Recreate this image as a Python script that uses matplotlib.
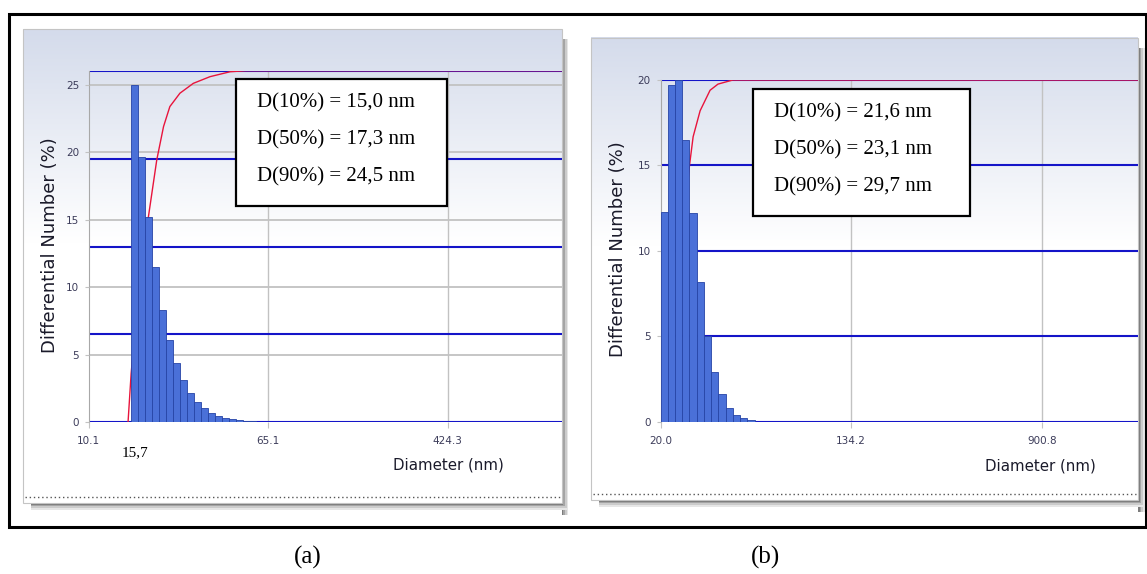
import numpy as np
import matplotlib.pyplot as plt
from matplotlib.patches import Rectangle
from matplotlib.colors import LinearSegmentedColormap
from matplotlib.ticker import NullLocator

W, H = 1147, 574

# (a) size bins: lower/upper edges in nm and differential number in %
edges_a = [15.7, 16.9, 18.2, 19.6, 21.0, 22.6, 24.3, 26.1, 28.1, 30.2, 32.5,
           34.9, 37.5, 40.3, 43.4, 46.6, 50.1, 53.9, 57.9, 62.3]
number_a = [25.0, 19.7, 15.2, 11.5, 8.3, 6.1, 4.4, 3.1, 2.2, 1.5, 1.05,
            0.7, 0.45, 0.3, 0.25, 0.18, 0.12, 0.08, 0.05]
# (a) cumulative curve (% of particles)
cum_d_a = [15.2, 15.7, 16.9, 18.8, 20.5, 22.0, 23.5, 26.1, 30.0, 35.7, 44.0, 52.0, 1393]
cum_p_a = [0, 13.9, 36, 58.5, 74.6, 84.1, 89.8, 93.6, 96.4, 98.3, 99.7, 100, 100]
xticks_a = [10.1, 65.1, 424.3]
xlabels_a = ['10.1', '65.1', '424.3']
yticks_a = [0, 5, 10, 15, 20, 25]
stats_a = ['D(10%) = 15,0 nm', 'D(50%) = 17,3 nm', 'D(90%) = 24,5 nm']

# (b)
edges_b = [20.0, 21.5, 23.1, 24.8, 26.7, 28.7, 30.8, 33.1, 35.6, 38.3, 41.2,
           44.3, 47.6, 51.2]
number_b = [12.3, 19.7, 20.0, 16.5, 12.2, 8.2, 5.0, 2.9, 1.6, 0.8, 0.4, 0.2, 0.1]
cum_d_b = [20.0, 21.5, 23.1, 24.8, 26.7, 27.7, 29.7, 32.8, 35.5, 38.7, 41.2, 2348]
cum_p_b = [0, 12, 32, 52, 74.9, 83.4, 91, 97, 98.8, 99.5, 100, 100]
xticks_b = [20.0, 134.2, 900.8]
xlabels_b = ['20.0', '134.2', '900.8']
yticks_b = [0, 5, 10, 15, 20]
stats_b = ['D(10%) = 21,6 nm', 'D(50%) = 23,1 nm', 'D(90%) = 29,7 nm']

SERIF = 'Liberation Serif'
SANS = 'DejaVu Sans'
BAR = '#4a70d8'
BAR_EDGE = '#2644a6'
BLUE = '#1414c8'
RED = '#e8143c'
GRID = '#c2c2c2'
TICK = '#3c3c5a'

fig = plt.figure(figsize=(W / 100, H / 100), dpi=100)


def px_rect(x0, y0, x1, y1):
    return [x0 / W, 1 - y1 / H, (x1 - x0) / W, (y1 - y0) / H]


# background layer in pixel coordinates
bg = fig.add_axes([0, 0, 1, 1], zorder=-1)
bg.set_xlim(0, W)
bg.set_ylim(H, 0)
bg.axis('off')

# overlay layer for boxes and labels
ov = fig.add_axes([0, 0, 1, 1], zorder=5)
ov.set_xlim(0, W)
ov.set_ylim(H, 0)
ov.axis('off')
ov.patch.set_visible(False)

fade = LinearSegmentedColormap.from_list('fade', ['#d4dbeb', '#ffffff'])
ramp = np.clip(np.linspace(0, 1, 300) / 0.45, 0, 1)[:, None]


def window(x0, y0, x1, y1):
    # drop shadow on right and bottom
    for k, c in enumerate(['#7c7c7c', '#a4a4a4', '#cbcbcb', '#e6e6e6']):
        bg.add_patch(Rectangle((x1 + k * 1.6, y0 + 10), 1.8, y1 - y0 + 2,
                               color=c, lw=0))
        bg.add_patch(Rectangle((x0 + 8, y1 + k * 1.6), x1 - x0 - 2, 1.8,
                               color=c, lw=0))
    bg.imshow(ramp, cmap=fade, aspect='auto', extent=(x0, x1, y1, y0),
              vmin=0, vmax=1, zorder=1)
    bg.add_patch(Rectangle((x0, y0), x1 - x0, y1 - y0, fill=False,
                           ec='#c4c4c4', lw=0.8, zorder=2))
    bg.plot([x0 + 2, x1 - 2], [y1 - 6, y1 - 6], color='#555555', lw=1.0,
            ls=(0, (1, 2)), zorder=2)


window(23.3, 29.3, 561.7, 503)
window(591, 37.7, 1138, 500)


def chart(rect, edges, number, cum_d, cum_p, xlim, ymax, yticks, xticks, xlabels):
    axc = fig.add_axes(rect)
    axc.patch.set_visible(False)
    axc.set_xscale('log')
    axc.set_xlim(*xlim)
    axc.set_ylim(0, 100)
    axb = axc.twinx()
    axb.set_ylim(0, ymax)

    # grey grid of the number scale, kept under the blue cumulative grid
    for v in yticks[1:]:
        axc.plot([0, 1], [v, v], transform=axb.get_yaxis_transform(),
                 color=GRID, lw=1.3, zorder=0.5)
    for t in xticks[1:]:
        axc.axvline(t, color=GRID, lw=1.0, zorder=0.5)
    for p in [0, 25, 50, 75, 100]:
        axc.axhline(p, color=BLUE, lw=1.5, zorder=1)
    axc.plot(cum_d, cum_p, color=RED, lw=1.0, zorder=2)

    axb.bar(edges[:-1], number, width=np.diff(edges), align='edge',
            color=BAR, edgecolor=BAR_EDGE, linewidth=0.6, zorder=3)

    axc.set_xticks(xticks)
    axc.set_xticklabels(xlabels)
    axc.xaxis.set_minor_locator(NullLocator())
    axc.tick_params(axis='x', length=4, color=GRID, pad=6,
                    labelsize=7.5, labelcolor=TICK)
    axc.tick_params(axis='y', left=False, labelleft=False, right=False)
    axb.set_yticks(yticks)
    axb.tick_params(axis='y', left=True, labelleft=True, right=False,
                    labelright=False, length=3, color=GRID, pad=4,
                    labelsize=7.5, labelcolor=TICK)
    for s in axc.spines.values():
        s.set_visible(False)
    for s in axb.spines.values():
        s.set_visible(False)
    axc.spines['left'].set_visible(True)
    axc.spines['left'].set_color('#a8a8a8')
    return axc, axb


chart(px_rect(88.8, 70.7, 561.7, 422.3), edges_a, number_a, cum_d_a, cum_p_a,
      (10.1, 1393), 26.06, yticks_a, xticks_a, xlabels_a)
chart(px_rect(660.5, 80, 1138, 421.7), edges_b, number_b, cum_d_b, cum_p_b,
      (20.0, 2348), 20.0, yticks_b, xticks_b, xlabels_b)


def stats_box(x0, y0, x1, y1, lines):
    ov.add_patch(Rectangle((x0, y0), x1 - x0, y1 - y0, facecolor='white',
                           edgecolor='black', lw=1.6))
    for i, s in enumerate(lines):
        ov.text(x0 + 21, y0 + 23.7 + i * 37, s, family=SERIF, fontsize=15,
                va='center', ha='left')


stats_box(235.6, 79, 446.5, 205.7, stats_a)
stats_box(753, 89, 970, 215.7, stats_b)

ov.text(135, 453, '15,7', family=SERIF, fontsize=11, ha='center', va='center')

for x, y in [(50, 245), (618, 249)]:
    ov.text(x, y, 'Differential Number (%)', family=SANS, fontsize=13,
            rotation=90, ha='center', va='center', color='#1a1a2a')
for x, y in [(448, 465), (1040, 466)]:
    ov.text(x, y, 'Diameter (nm)', family=SANS, fontsize=10.8,
            ha='center', va='center', color='#1a1a2a')

ov.text(308, 557, '(a)', family=SERIF, fontsize=18, ha='center', va='center')
ov.text(765, 557, '(b)', family=SERIF, fontsize=18, ha='center', va='center')

# outer frame around both panels
ov.add_patch(Rectangle((9.3, 14), 1146 - 9.3, 526.7 - 14, fill=False,
                       ec='black', lw=2.2, clip_on=False))

fig.savefig('out.png', dpi=100)
